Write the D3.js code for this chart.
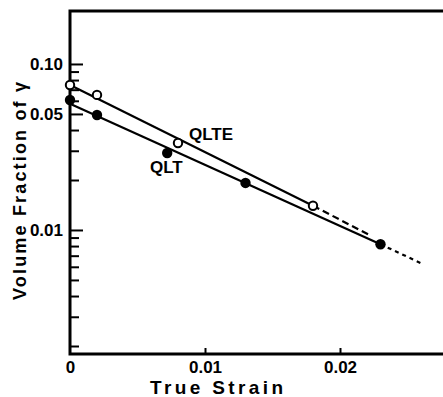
<!DOCTYPE html>
<html>
<head>
<meta charset="utf-8">
<script src="https://cdn.jsdelivr.net/npm/d3@7"></script>
<style>
  body { margin: 0; background: #fff; }
  text { font-family: "Liberation Sans", Arial, sans-serif; font-weight: bold; fill: #000; }
</style>
</head>
<body>
<svg id="chart" width="443" height="397"></svg>
<script>
// data
var strainQLTE = [0, 0.002, 0.008, 0.018];
var fracQLTE   = [0.0747, 0.0651, 0.0334, 0.0140];
var strainQLT  = [0, 0.002, 0.0072, 0.013, 0.023];
var fracQLT    = [0.0607, 0.0493, 0.0291, 0.0192, 0.0082];

// fitted lines: solid part and dashed extrapolation
var fitQLTE    = [[0, 0.0747], [0.018, 0.0140]];
var extQLTE    = [[0.018, 0.0140], [0.0222, 0.0093]];
var fitQLT     = [[0, 0.0576], [0.023, 0.0082]];
var extQLT     = [[0.023, 0.0082], [0.0262, 0.0062]];

var yMajor     = [0.1, 0.05, 0.01];
var yMajorLab  = ["0.10", "0.05", "0.01"];
var yMinor     = [0.09, 0.08, 0.07, 0.06, 0.04, 0.03, 0.02,
                  0.009, 0.008, 0.007, 0.006, 0.005, 0.004, 0.003, 0.002];
var xTicks     = [0, 0.01, 0.02];
var xTickLab   = ["0", "0.01", "0.02"];

// plot box
var box = {left: 70, right: 443, top: 11, bottom: 354};

var svg = d3.select("#chart");

var x = d3.scaleLinear()
    .domain([0, 0.02763])
    .range([box.left, box.right]);

var y = d3.scaleLog()
    .domain([0.00179, 0.2085])
    .range([box.bottom, box.top]);

// minor ticks (inward)
svg.append("g")
    .attr("transform", `translate(${box.left},0)`)
    .call(d3.axisRight(y).tickValues(yMinor).tickSize(9).tickFormat(""))
    .call(g => g.select(".domain").remove())
    .selectAll("line").attr("stroke-width", 2);

// major ticks (inward)
svg.append("g")
    .attr("transform", `translate(${box.left},0)`)
    .call(d3.axisRight(y).tickValues(yMajor).tickSize(13).tickFormat(""))
    .call(g => g.select(".domain").remove())
    .selectAll("line").attr("stroke-width", 2);

// y tick labels
svg.append("g")
    .attr("transform", `translate(${box.left},0)`)
    .call(d3.axisLeft(y).tickValues(yMajor).tickSize(0).tickPadding(7)
        .tickFormat((d, i) => yMajorLab[i]))
    .call(g => g.select(".domain").remove())
    .selectAll("text")
      .style("font-size", "17px")
      .style("font-family", "Liberation Sans, Arial, sans-serif")
      .style("font-weight", "bold");

// x ticks (inward, only 0.01 and 0.02)
svg.append("g")
    .attr("transform", `translate(0,${box.bottom})`)
    .call(d3.axisTop(x).tickValues(xTicks.slice(1)).tickSize(6).tickFormat(""))
    .call(g => g.select(".domain").remove())
    .selectAll("line").attr("stroke-width", 2);

// x tick labels
svg.append("g")
    .attr("transform", `translate(0,${box.bottom})`)
    .call(d3.axisBottom(x).tickValues(xTicks).tickSize(0).tickPadding(7)
        .tickFormat((d, i) => xTickLab[i]))
    .call(g => g.select(".domain").remove())
    .selectAll("text")
      .style("font-size", "17px")
      .style("font-family", "Liberation Sans, Arial, sans-serif")
      .style("font-weight", "bold");

// frame: top, left, bottom
svg.append("path")
    .attr("d", `M${box.right},${box.top}H${box.left}V${box.bottom}H${box.right}`)
    .attr("fill", "none")
    .attr("stroke", "black")
    .attr("stroke-width", 3);

var line = d3.line()
    .x(d => x(d[0]))
    .y(d => y(d[1]));

svg.append("path").datum(fitQLTE).attr("d", line)
    .attr("fill", "none").attr("stroke", "black").attr("stroke-width", 2.2);
svg.append("path").datum(extQLTE).attr("d", line)
    .attr("fill", "none").attr("stroke", "black").attr("stroke-width", 2.2)
    .attr("stroke-dasharray", "7,4");
svg.append("path").datum(fitQLT).attr("d", line)
    .attr("fill", "none").attr("stroke", "black").attr("stroke-width", 2.2);
svg.append("path").datum(extQLT).attr("d", line)
    .attr("fill", "none").attr("stroke", "black").attr("stroke-width", 2.2)
    .attr("stroke-dasharray", "4,4");

// open circles (QLTE)
svg.append("g")
    .selectAll("circle")
    .data(strainQLTE.map((s, i) => [s, fracQLTE[i]]))
    .enter()
    .append("circle")
      .attr("cx", d => x(d[0]))
      .attr("cy", d => y(d[1]))
      .attr("r", 4.2)
      .attr("fill", "white")
      .attr("stroke", "black")
      .attr("stroke-width", 2);

// filled circles (QLT)
svg.append("g")
    .selectAll("circle")
    .data(strainQLT.map((s, i) => [s, fracQLT[i]]))
    .enter()
    .append("circle")
      .attr("cx", d => x(d[0]))
      .attr("cy", d => y(d[1]))
      .attr("r", 5.2)
      .attr("fill", "black");

// series labels
svg.append("text")
    .attr("x", 189).attr("y", 140)
    .style("font-size", "17px")
    .text("QLTE");
svg.append("text")
    .attr("x", 150).attr("y", 173)
    .style("font-size", "17px")
    .text("QLT");

// axis titles
svg.append("text")
    .attr("x", 150).attr("y", 394)
    .attr("textLength", 133)
    .attr("lengthAdjust", "spacing")
    .style("font-size", "19px")
    .text("True Strain");

svg.append("text")
    .attr("transform", "translate(26,191) rotate(-90)")
    .attr("text-anchor", "middle")
    .attr("textLength", 218)
    .attr("lengthAdjust", "spacing")
    .style("font-size", "18px")
    .text("Volume Fraction of γ");
</script>
</body>
</html>
